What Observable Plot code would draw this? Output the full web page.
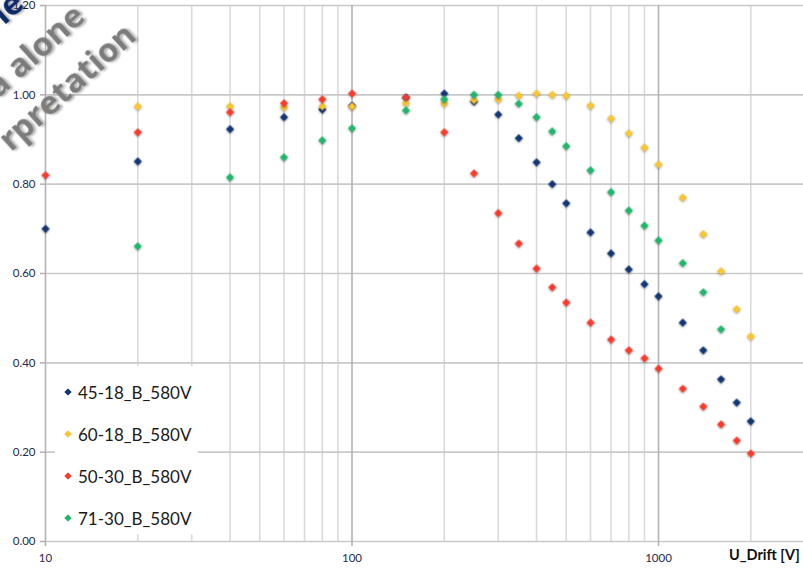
<!DOCTYPE html>
<html>
<head>
<meta charset="utf-8">
<script src="https://cdn.jsdelivr.net/npm/d3@7"></script>
<script src="https://cdn.jsdelivr.net/npm/@observablehq/plot@0.6"></script>
<style>
  html, body { margin: 0; padding: 0; background: #fff; }
  #wrap { position: relative; width: 803px; height: 571px; overflow: hidden; font-family: Lato, "Open Sans", sans-serif; }
  #wrap svg g[aria-label="dot"] { filter: drop-shadow(0.8px 1px 0.8px rgba(0,0,0,0.35)); }
  #legend { position: absolute; left: 55px; top: 366px; width: 143px; height: 168px; background: #fff; }
  .li { position: absolute; left: 0; height: 20px; display: flex; align-items: center; font-size: 17px; color: #1a1a1a; white-space: nowrap; }
  .li svg { margin-left: 9px; margin-right: 6px; }
  #xlabel { position: absolute; left: 729px; top: 546px; font-weight: bold; font-size: 14.5px; color: #111; white-space: nowrap; }
  #wm { position: absolute; left: 0; top: 0; pointer-events: none; }
</style>
</head>
<body>
<div id="wrap"></div>
<script>
// ---- data ----
const voltages = [10, 20, 40, 60, 80, 100, 150, 200, 250, 300, 350, 400, 450, 500, 600, 700, 800, 900, 1000, 1200, 1400, 1600, 1800, 2000];
const seriesNames = ["45-18_B_580V", "60-18_B_580V", "50-30_B_580V", "71-30_B_580V"];
const seriesColors = ["#133677", "#fbc62e", "#fd3a2a", "#1fb86a"];
const s45_18 = [0.700, 0.851, 0.923, 0.950, 0.967, 0.976, 0.994, 1.003, 0.985, 0.956, 0.903, 0.849, 0.800, 0.757, 0.692, 0.645, 0.609, 0.576, 0.549, 0.490, 0.428, 0.363, 0.311, 0.269];
const s60_18 = [0.970, 0.974, 0.974, 0.972, 0.974, 0.974, 0.981, 0.981, 0.988, 0.990, 0.998, 1.003, 1.000, 0.998, 0.976, 0.947, 0.914, 0.882, 0.844, 0.770, 0.688, 0.605, 0.520, 0.459];
const s50_30 = [0.820, 0.916, 0.961, 0.981, 0.990, 1.003, 0.994, 0.916, 0.824, 0.735, 0.667, 0.611, 0.569, 0.535, 0.490, 0.452, 0.428, 0.410, 0.387, 0.342, 0.302, 0.262, 0.226, 0.197];
const s71_30 = [null, 0.661, 0.815, 0.860, 0.898, 0.925, 0.965, 0.990, 1.000, 1.000, 0.980, 0.950, 0.918, 0.885, 0.831, 0.782, 0.741, 0.707, 0.674, 0.623, 0.558, 0.475, null, null];
const xMajorTicks = [10, 100, 1000];
const xMinorGrid = [20, 30, 40, 50, 60, 70, 80, 90, 200, 300, 400, 500, 600, 700, 800, 900, 2000];
const yTicks = [0, 0.2, 0.4, 0.6, 0.8, 1.0, 1.2];
const xAxisTitle = "U_Drift [V]";
const watermark = ["ie", "a alone", "rpretation"];

const allSeries = [s45_18, s60_18, s50_30, s71_30];
const rows = [];
allSeries.forEach((vals, si) => {
  vals.forEach((v, i) => { if (v != null) rows.push({ s: seriesNames[si], x: voltages[i], y: v }); });
});

const chart = Plot.plot({
  width: 803,
  height: 571,
  marginLeft: 45,
  marginRight: 0,
  marginTop: 5,
  marginBottom: 30,
  style: { fontFamily: "Lato, 'Open Sans', sans-serif", fontSize: "11.5px", background: "#fff", overflow: "visible" },
  x: { type: "log", domain: [10, 2972], label: null },
  y: { domain: [0, 1.2], label: null },
  color: { domain: seriesNames, range: seriesColors },
  marks: [
    Plot.ruleX(xMinorGrid, { stroke: "#dadada", strokeWidth: 1.6 }),
    Plot.ruleY(yTicks, { stroke: "#c9c9c9", strokeWidth: 1.6 }),
    Plot.ruleX(xMajorTicks, { stroke: "#b3b3b3", strokeWidth: 1.6 }),
    Plot.axisY({ ticks: yTicks, tickFormat: d => d.toFixed(2), tickSize: 5, tickPadding: 5, stroke: "#b3b3b3", fill: "#1f2a48", strokeWidth: 1.6, label: null }),
    Plot.axisX({ ticks: xMajorTicks, tickFormat: d => String(d), tickSize: 5, tickPadding: 7, stroke: "#b3b3b3", fill: "#1f2a48", strokeWidth: 1.6, label: null }),
    ...seriesNames.map(name => Plot.dot(rows.filter(r => r.s === name), { x: "x", y: "y", fill: "s", symbol: "diamond2", r: 3.7, stroke: "none" }))
  ]
});

const wrap = document.getElementById("wrap");
wrap.appendChild(chart);

// legend
const legend = document.createElement("div");
legend.id = "legend";
seriesNames.forEach((n, i) => {
  const li = document.createElement("div");
  li.className = "li";
  li.style.top = (16 + i * 42) + "px";
  li.innerHTML = `<svg width="8" height="8" viewBox="-4 -4 8 8" style="filter: drop-shadow(0.5px 0.7px 0.6px rgba(0,0,0,0.3))"><path d="M0,-3.6L3.6,0L0,3.6L-3.6,0Z" fill="${seriesColors[i]}"/></svg><span>${n}</span>`;
  legend.appendChild(li);
});
wrap.appendChild(legend);

const xl = document.createElement("div");
xl.id = "xlabel";
xl.textContent = xAxisTitle;
wrap.appendChild(xl);

// watermark overlay
const ns = "http://www.w3.org/2000/svg";
const wm = document.createElementNS(ns, "svg");
wm.setAttribute("id", "wm");
wm.setAttribute("width", 803);
wm.setAttribute("height", 571);
const defs = document.createElementNS(ns, "defs");
defs.innerHTML = `<filter id="sh" x="-20%" y="-30%" width="140%" height="160%"><feDropShadow dx="1.6" dy="1.8" stdDeviation="1.2" flood-color="#000" flood-opacity="0.35"/></filter>`;
wm.appendChild(defs);
const wmPos = [[26, 6, "#0b2a66"], [87, 19, "#7c7c7c"], [138, 38, "#7c7c7c"]];
watermark.forEach((t, i) => {
  const el = document.createElementNS(ns, "text");
  el.textContent = t;
  el.setAttribute("transform", `translate(${wmPos[i][0]},${wmPos[i][1]}) rotate(-42)`);
  el.setAttribute("text-anchor", "end");
  el.setAttribute("font-family", "'Open Sans', sans-serif");
  el.setAttribute("font-size", "33");
  el.setAttribute("font-weight", "700");
  el.setAttribute("fill", wmPos[i][2]);
  el.setAttribute("filter", "url(#sh)");
  wm.appendChild(el);
});
wrap.appendChild(wm);
</script>
</body>
</html>
